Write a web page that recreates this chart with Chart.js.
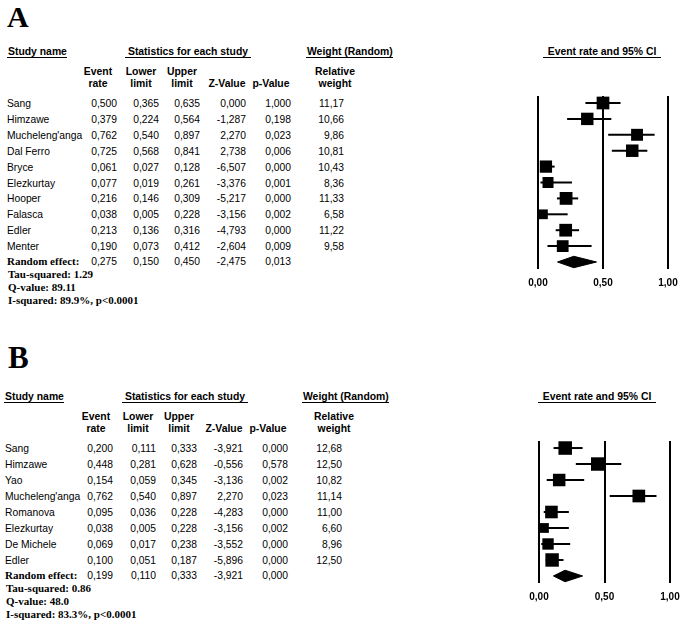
<!DOCTYPE html>
<html>
<head>
<meta charset="utf-8">
<script src="https://cdn.jsdelivr.net/npm/chart.js@4.4.0/dist/chart.umd.min.js"></script>
<style>
  body { margin: 0; width: 690px; height: 626px; position: relative; overflow: hidden; background: #fff; color: #000; }
  .t { position: absolute; white-space: nowrap; line-height: 1; }
  .letter { position: absolute; line-height: 0.8; }
  .rule { position: absolute; height: 1px; background: #000; }
  canvas { position: absolute; }
</style>
</head>
<body>
<canvas id="plotA" width="190" height="220" style="left:500px;top:80px"></canvas>
<canvas id="plotB" width="190" height="189" style="left:500px;top:425px"></canvas>
<script>
// ---- Panel A data ----
const studiesA = ['Sang', 'Himzawe', "Mucheleng'anga", 'Dal Ferro', 'Bryce', 'Elezkurtay', 'Hooper', 'Falasca', 'Edler', 'Menter'];
const rateA   = [0.500, 0.379, 0.762, 0.725, 0.061, 0.077, 0.216, 0.038, 0.213, 0.190];
const lowerA  = [0.365, 0.224, 0.540, 0.568, 0.027, 0.019, 0.146, 0.005, 0.136, 0.073];
const upperA  = [0.635, 0.564, 0.897, 0.841, 0.128, 0.261, 0.309, 0.228, 0.316, 0.412];
const zA      = [0.000, -1.287, 2.270, 2.738, -6.507, -3.376, -5.217, -3.156, -4.793, -2.604];
const pA      = [1.000, 0.198, 0.023, 0.006, 0.000, 0.001, 0.000, 0.002, 0.000, 0.009];
const weightA = [11.17, 10.66, 9.86, 10.81, 10.43, 8.36, 11.33, 6.58, 11.22, 9.58];
const summaryA = [0.275, 0.150, 0.450, -2.475, 0.013];   // rate, lower, upper, z, p
const statsA = ['Tau-squared: 1.29', 'Q-value: 89.11', 'I-squared: 89.9%, p<0.0001'];

// ---- Panel B data ----
const studiesB = ['Sang', 'Himzawe', 'Yao', "Mucheleng'anga", 'Romanova', 'Elezkurtay', 'De Michele', 'Edler'];
const rateB   = [0.200, 0.448, 0.154, 0.762, 0.095, 0.038, 0.069, 0.100];
const lowerB  = [0.111, 0.281, 0.059, 0.540, 0.036, 0.005, 0.017, 0.051];
const upperB  = [0.333, 0.628, 0.345, 0.897, 0.228, 0.228, 0.238, 0.187];
const zB      = [-3.921, -0.556, -3.136, 2.270, -4.283, -3.156, -3.552, -5.896];
const pB      = [0.000, 0.578, 0.002, 0.023, 0.000, 0.002, 0.000, 0.000];
const weightB = [12.68, 12.50, 10.82, 11.14, 11.00, 6.60, 8.96, 12.50];
const summaryB = [0.199, 0.110, 0.333, -3.921, 0.000];
const statsB = ['Tau-squared: 0.86', 'Q-value: 48.0', 'I-squared: 83.3%, p<0.0001'];

const tickValues = [0, 0.5, 1];

const SANS = '"Liberation Sans", Arial, sans-serif';
const SERIF = '"Liberation Serif", "Times New Roman", serif';
const fmt3 = v => v.toFixed(3).replace('.', ',');
const fmt2 = v => v.toFixed(2).replace('.', ',');

function put(txt, x, y, align, font) {
    const d = document.createElement('div');
    d.className = 't';
    d.textContent = txt;
    d.style.font = font;
    d.style.left = x + 'px';
    d.style.top = y + 'px';
    const tx = align === 'right' ? '-100%' : align === 'center' ? '-50%' : '0';
    d.style.transform = `translate(${tx},-50%)`;
    document.body.appendChild(d);
}

function rule(x1, x2, y) {
    const d = document.createElement('div');
    d.className = 'rule';
    d.style.left = x1 + 'px';
    d.style.width = (x2 - x1) + 'px';
    d.style.top = y + 'px';
    document.body.appendChild(d);
}

function createForestChart(canvasId, rates, lowers, uppers, weights, summary, pad) {
    const n = rates.length;
    const half = 0.36; // diamond half height in row units
    const datasets = [];
    // confidence interval whiskers
    rates.forEach((r, i) => {
        datasets.push({
            type: 'line',
            data: [{ x: lowers[i], y: i }, { x: uppers[i], y: i }],
            borderColor: '#000', borderWidth: 2, pointRadius: 0, clip: false
        });
    });
    // weighted squares
    datasets.push({
        type: 'scatter',
        data: rates.map((r, i) => ({ x: r, y: i })),
        pointStyle: 'rect',
        pointRadius: ctx => 3.8 * Math.sqrt(weights[ctx.dataIndex]) / Math.SQRT2,
        pointBackgroundColor: '#000', pointBorderWidth: 0, clip: false
    });
    // random effect diamond
    datasets.push({
        type: 'line',
        data: [
            { x: summary[1], y: n }, { x: summary[0], y: n - half },
            { x: summary[2], y: n }, { x: summary[0], y: n + half },
            { x: summary[1], y: n }
        ],
        borderColor: '#000', borderWidth: 1, backgroundColor: '#000',
        fill: 'shape', pointRadius: 0, clip: false
    });

    return new Chart(document.getElementById(canvasId), {
        type: 'scatter',
        data: { datasets },
        options: {
            responsive: false,
            animation: false,
            layout: { padding: pad },
            plugins: { legend: { display: false }, tooltip: { enabled: false } },
            scales: {
                x: {
                    type: 'linear', min: 0, max: 1,
                    afterBuildTicks: s => { s.ticks = tickValues.map(v => ({ value: v })); },
                    grid: { color: '#000', lineWidth: 2, drawTicks: false },
                    border: { display: false },
                    ticks: {
                        padding: 8, color: '#000',
                        font: { family: SANS, size: 10, weight: 'bold' },
                        callback: v => fmt2(v)
                    }
                },
                y: { type: 'linear', min: -0.44, max: n + 0.44, reverse: true, display: false }
            }
        }
    });
}

function drawPanel(letter, letterTop, letterSize, hdr, studies, rates, lowers, uppers, zs, ps, weights, summary, stats, chart, canvasTop) {
    const L = document.createElement('div');
    L.className = 'letter';
    L.textContent = letter;
    L.style.font = `bold ${letterSize}px ${SERIF}`;
    L.style.lineHeight = '0.8';
    L.style.left = hdr.letterX + 'px';
    L.style.top = letterTop + 'px';
    document.body.appendChild(L);

    const hfont = `bold 10.4px ${SANS}`;
    put('Study name', hdr.nameX, hdr.y, 'left', hfont);
    rule(hdr.nameX - 1, hdr.nameX + 59, hdr.y + 6);
    put('Statistics for each study', hdr.statC, hdr.y, 'center', hfont);
    rule(hdr.statC - 63, hdr.statC + 63, hdr.y + 6);
    put('Weight (Random)', hdr.wL, hdr.y, 'left', hfont);
    rule(hdr.wL - 1, hdr.wL + 86, hdr.y + 6);
    put('Event rate and 95% CI', hdr.plotC, hdr.y, 'center', hfont);
    rule(hdr.plotC - 59, hdr.plotC + 59, hdr.y + 6);

    const sub = [['Event', 'rate'], ['Lower', 'limit'], ['Upper', 'limit'], ['', 'Z-Value'], ['', 'p-Value'], ['Relative', 'weight']];
    sub.forEach((s, k) => {
        if (s[0]) put(s[0], hdr.subC[k], hdr.y + 20, 'center', hfont);
        put(s[1], hdr.subC[k], hdr.y + 32, 'center', hfont);
    });

    const rfont = `10.3px ${SANS}`;
    const yScale = chart.scales.y;
    studies.forEach((name, i) => {
        const y = canvasTop + yScale.getPixelForValue(i);
        put(name, hdr.rowX, y, 'left', rfont);
        const vals = [fmt3(rates[i]), fmt3(lowers[i]), fmt3(uppers[i]), fmt3(zs[i]), fmt3(ps[i]), fmt2(weights[i])];
        vals.forEach((v, k) => put(v, hdr.cols[k], y, 'right', rfont));
    });
    const ys = canvasTop + yScale.getPixelForValue(studies.length) - 1;
    put('Random effect:', hdr.rowX, ys, 'left', `bold 11px ${SERIF}`);
    summary.forEach((v, k) => put(fmt3(v), hdr.cols[k], ys, 'right', rfont));
    stats.forEach((s, k) => put(s, hdr.rowX + 1, ys + 13 * (k + 1), 'left', `bold 11px ${SERIF}`));
}

const chartA = createForestChart('plotA', rateA, lowerA, upperA, weightA, summaryA, { left: 38, right: 22, top: 16, bottom: 3 });
const chartB = createForestChart('plotB', rateB, lowerB, upperB, weightB, summaryB, { left: 39, right: 20, top: 16, bottom: 3 });

drawPanel('A', 5, 30, {
    letterX: 7, nameX: 8, rowX: 7, y: 51, statC: 188, wL: 307, plotC: 602,
    subC: [98, 141, 182, 227, 271, 335],
    cols: [117, 159, 200, 246, 291, 344]
}, studiesA, rateA, lowerA, upperA, zA, pA, weightA, summaryA, statsA, chartA, 80);

drawPanel('B', 346, 31, {
    letterX: 8, nameX: 5, rowX: 5, y: 396, statC: 185, wL: 303, plotC: 597,
    subC: [96, 138, 179, 224, 268, 334],
    cols: [113, 156, 197, 243, 288, 342]
}, studiesB, rateB, lowerB, upperB, zB, pB, weightB, summaryB, statsB, chartB, 425);
</script>
</body>
</html>
